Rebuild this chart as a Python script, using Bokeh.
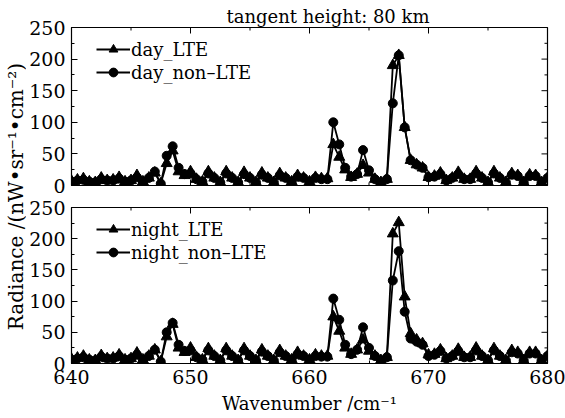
import math
from bokeh.plotting import figure
from bokeh.layouts import row, column
from bokeh.models import Legend, LegendItem, Label, FixedTicker, Range1d
from bokeh.embed import file_html
from bokeh.resources import INLINE

# ---- data ----
wavenumber = [640 + 0.5 * i for i in range(81)]

day_lte = [7, 9, 11, 6, 5, 12, 8, 9, 13, 6,
           8, 16, 6, 12, 20, 3, 35, 55, 22, 16,
           22, 10, 6, 22, 12, 5, 22, 12, 5, 21,
           12, 5, 20, 12, 5, 19, 12, 6, 16, 12,
           6, 13, 11, 11, 65, 45, 25, 13, 18, 32,
           20, 10, 5, 10, 190, 206, 92, 40, 33, 28,
           13, 15, 20, 8, 12, 21, 10, 10, 22, 12,
           5, 22, 12, 5, 19, 16, 5, 17, 16, 5, 12]

day_nonlte = [6, 8, 9, 6, 5, 10, 8, 8, 11, 6,
              8, 13, 6, 12, 22, 3, 47, 62, 28, 18,
              19, 10, 6, 19, 12, 5, 19, 12, 5, 18,
              12, 5, 17, 12, 5, 16, 12, 6, 14, 12,
              6, 12, 10, 10, 100, 65, 28, 14, 18, 56,
              24, 10, 5, 10, 130, 206, 92, 40, 33, 28,
              13, 14, 18, 8, 12, 18, 10, 10, 19, 12,
              5, 19, 12, 5, 17, 15, 5, 15, 15, 5, 12]

night_lte = [7, 9, 12, 6, 5, 13, 8, 9, 14, 6,
             8, 17, 6, 12, 22, 3, 43, 63, 25, 18,
             25, 10, 6, 24, 12, 5, 24, 12, 5, 24,
             12, 5, 22, 12, 5, 21, 12, 6, 18, 12,
             6, 14, 12, 12, 75, 52, 25, 15, 22, 38,
             20, 12, 5, 10, 208, 226, 107, 48, 38, 32,
             14, 15, 22, 8, 12, 23, 10, 10, 25, 12,
             5, 24, 12, 5, 21, 18, 5, 18, 18, 5, 12]

night_nonlte = [6, 8, 10, 6, 5, 11, 8, 8, 12, 6,
                8, 14, 6, 12, 22, 3, 50, 65, 30, 20,
                21, 10, 6, 21, 12, 5, 21, 12, 5, 21,
                12, 5, 19, 12, 5, 18, 12, 6, 15, 12,
                6, 12, 11, 11, 104, 70, 30, 15, 22, 58,
                25, 12, 5, 10, 133, 180, 83, 40, 35, 30,
                12, 14, 20, 8, 12, 20, 10, 10, 21, 12,
                5, 21, 12, 5, 18, 16, 5, 16, 16, 5, 12]

x_ticks = [640, 650, 660, 670, 680]
x_minor = [645, 655, 665, 675]
y_ticks = [0, 50, 100, 150, 200, 250]
y_minor = [25, 75, 125, 175, 225]
X0, X1, Y0, Y1 = 640, 680, 0, 250

FONT = "DejaVu Serif"
FS = "18px"
TICK_FS = "19px"


def style_axis(ax, ticks, minor):
    ax.ticker = FixedTicker(ticks=ticks, minor_ticks=minor)
    ax.major_tick_in = 6
    ax.major_tick_out = 0
    ax.minor_tick_in = 3
    ax.minor_tick_out = 0
    ax.axis_line_color = "black"
    ax.major_tick_line_color = "black"
    ax.minor_tick_line_color = "black"
    ax.major_label_text_font = FONT
    ax.major_label_text_font_size = TICK_FS
    ax.major_label_text_color = "black"
    ax.major_label_standoff = 6


def inner_ticks(p, bottom=False):
    # mirrored inward ticks on the edges that carry no labels
    kw = dict(line_color="black", line_width=1, length_units="screen")
    p.ray(x=x_ticks, y=[Y1] * len(x_ticks), length=6, angle=-math.pi / 2, **kw)
    p.ray(x=x_minor, y=[Y1] * len(x_minor), length=3, angle=-math.pi / 2, **kw)
    p.ray(x=[X1] * len(y_ticks), y=y_ticks, length=6, angle=math.pi, **kw)
    p.ray(x=[X1] * len(y_minor), y=y_minor, length=3, angle=math.pi, **kw)
    if bottom:
        p.ray(x=x_ticks, y=[Y0] * len(x_ticks), length=6, angle=math.pi / 2, **kw)
        p.ray(x=x_minor, y=[Y0] * len(x_minor), length=3, angle=math.pi / 2, **kw)


def panel(lte, nlte, name_lte, name_nlte, height, mb_top, mb_bottom, show_x):
    p = figure(width=539, height=height, x_range=Range1d(X0, X1), y_range=Range1d(Y0, Y1),
               output_backend="svg", toolbar_location=None,
               x_axis_type="linear" if show_x else None,
               min_border_left=43, min_border_right=18,
               min_border_top=mb_top, min_border_bottom=mb_bottom)
    p.xgrid.visible = False
    p.ygrid.visible = False
    p.outline_line_color = "black"
    p.outline_line_width = 1.2
    p.background_fill_color = "white"
    p.border_fill_color = "white"

    if show_x:
        style_axis(p.below[0], x_ticks, x_minor)
    style_axis(p.left[0], y_ticks, y_minor)
    inner_ticks(p, bottom=not show_x)

    l1 = p.line(wavenumber, lte, line_color="black", line_width=1.8)
    s1 = p.scatter(wavenumber, lte, marker="triangle", size=11, fill_color="black", line_color="black")
    l2 = p.line(wavenumber, nlte, line_color="black", line_width=1.8)
    s2 = p.scatter(wavenumber, nlte, marker="circle", size=9, fill_color="black", line_color="black")

    fh = height - mb_top - mb_bottom
    legend = Legend(items=[LegendItem(label=name_lte, renderers=[l1, s1]),
                           LegendItem(label=name_nlte, renderers=[l2, s2])],
                    location=(25, fh - 12 - 44))
    legend.label_text_font = FONT
    legend.label_text_font_size = FS
    legend.label_text_color = "black"
    legend.glyph_width = 34
    legend.glyph_height = 22
    legend.label_height = 22
    legend.spacing = 1
    legend.padding = 0
    legend.margin = 0
    legend.label_standoff = 1
    legend.border_line_color = None
    legend.background_fill_alpha = 0
    p.add_layout(legend)
    return p


top_p = panel(day_lte, day_nonlte, "day_LTE", "day_non\u2013LTE", 196, 27, 11, False)
top_p.title.text = "tangent height: 80 km"
top_p.title.text_font = FONT
top_p.title.text_font_size = FS
top_p.title.text_font_style = "normal"
top_p.title.text_color = "black"
top_p.title.align = "left"
top_p.title.offset = 155
top_p.title.standoff = 2

bot_p = panel(night_lte, night_nonlte, "night_LTE", "night_non\u2013LTE", 222, 11, 55, True)
xa = bot_p.below[0]
xa.axis_label = "Wavenumber /cm\u207b\u00b9"
xa.axis_label_text_font = FONT
xa.axis_label_text_font_size = FS
xa.axis_label_text_font_style = "normal"
xa.axis_label_text_color = "black"
xa.axis_label_standoff = 6

lab = figure(width=26, height=418, x_range=Range1d(0, 1), y_range=Range1d(0, 1),
             output_backend="svg", toolbar_location=None, min_border=0,
             x_axis_type=None, y_axis_type=None)
lab.outline_line_color = None
lab.xgrid.visible = False
lab.ygrid.visible = False
lab.add_layout(Label(x=15, y=418 - 196, x_units="screen", y_units="screen",
                     text="Radiance /(nW\u2022sr\u207b\u00b9\u2022cm\u207b\u00b2)",
                     angle=math.pi / 2, text_align="center", text_baseline="middle",
                     text_font=FONT, text_font_size="20px", text_color="black"))

layout = row(lab, column(top_p, bot_p, spacing=0), spacing=0)

open("out.html", "w").write(file_html(layout, INLINE))
